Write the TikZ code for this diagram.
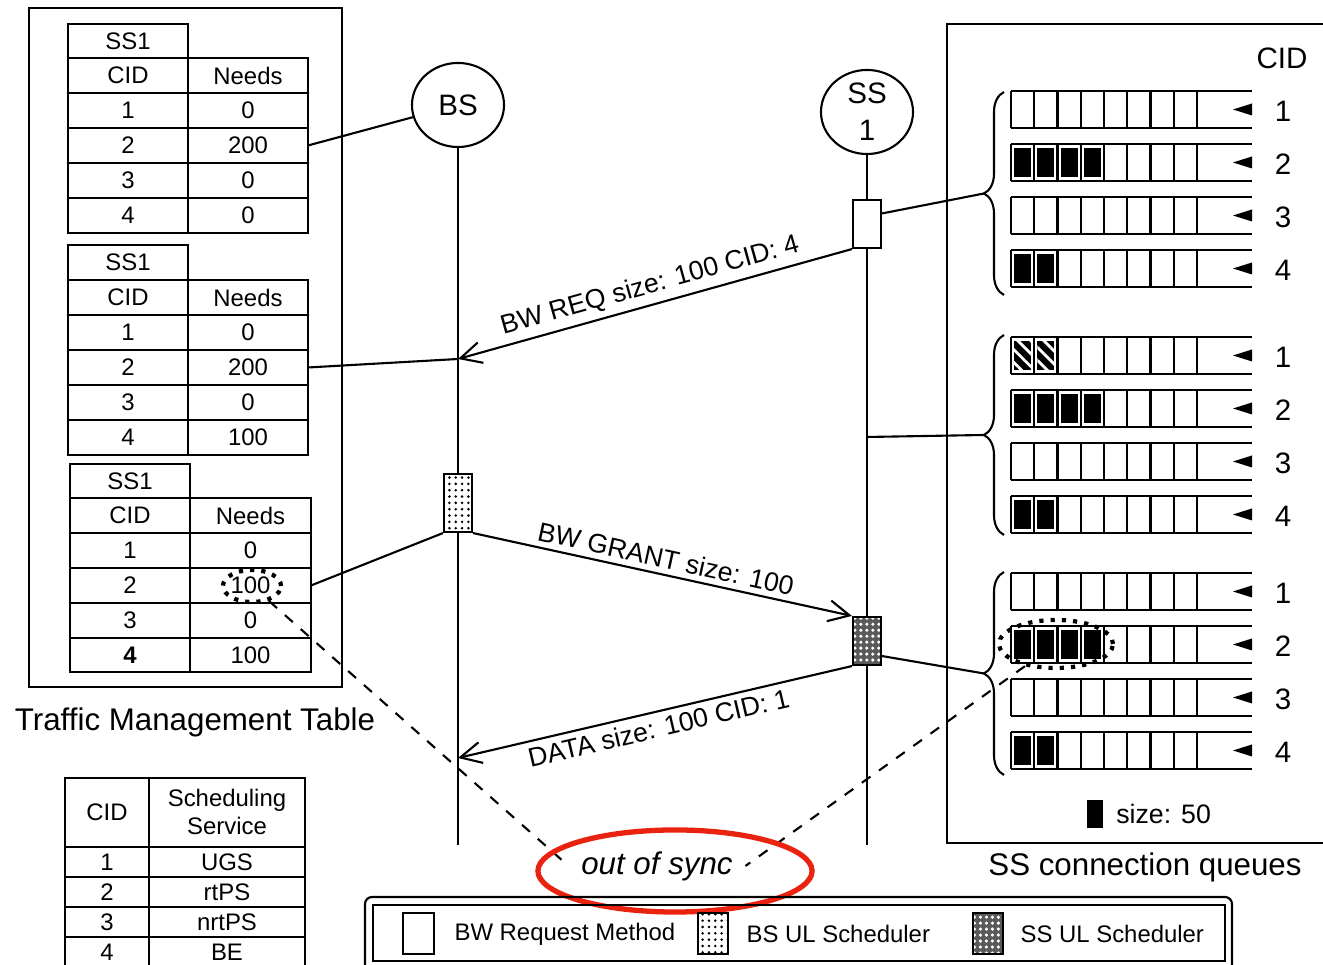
\documentclass[tikz,border=0pt]{standalone}
\usepackage{fontspec}
\setmainfont{Liberation Sans}
\usetikzlibrary{shapes.geometric,patterns,patterns.meta,decorations.pathreplacing,arrows.meta}

\definecolor{markred}{RGB}{234,34,16}

\tikzset{
  cell/.style={font=\fontsize{6.8}{8.2}\selectfont, inner sep=1pt},
  msg/.style={font=\fontsize{7.6}{9}\selectfont, inner sep=1.5pt},
  bigtext/.style={font=\fontsize{8.9}{10}\selectfont},
  num/.style={font=\fontsize{8.4}{10}\selectfont},
  station/.style={draw, ellipse, minimum width=0.92cm, minimum height=0.84cm, inner sep=0pt,
    font=\fontsize{8.4}{10.5}\selectfont, align=center},
  reqbox/.style={draw, fill=white, minimum width=0.28cm, minimum height=0.48cm, inner sep=0pt},
  bsbox/.style={draw, pattern={Dots[distance=1.8pt,radius=0.4pt]}, minimum width=0.28cm, minimum height=0.58cm, inner sep=0pt},
  ssbox/.style={draw, preaction={fill=black!65}, pattern={Dots[distance=1.7pt,radius=0.5pt]}, pattern color=white,
    minimum width=0.28cm, minimum height=0.48cm, inner sep=0pt},
  brc/.style={decorate, decoration={brace, amplitude=0.2cm}},
  msgarrow/.style={-{Straight Barb[length=6pt,width=6pt]}},
  ring/.style={draw, ellipse, dotted, line width=1.2pt, inner sep=0pt},
}

\begin{document}
\begin{tikzpicture}[x=0.01cm, y=-0.01cm, line width=0.6pt]
    \useasboundingbox (0,0) rectangle (1323,965);

    % traffic management table
    \draw (29,8) rectangle (342,687);
    \node[bigtext] (tmt) at (195,722) {Traffic Management Table};

    % first table
    \draw (68,24) rectangle (188,58);
    \draw (68,58) rectangle (308,233);
    \draw (188,58)--(188,233);
    \draw (68,93)--(308,93);
    \draw (68,128)--(308,128);
    \draw (68,163)--(308,163);
    \draw (68,198)--(308,198);
    \node[cell] (t1h) at (128,41) {SS1};
    \node[cell] (t1c) at (128,75.5) {CID};
    \node[cell] (t1n) at (248,75.5) {Needs};
    \node[cell] (t1a1) at (128,110.5) {1};
    \node[cell] (t1b1) at (248,110.5) {0};
    \node[cell] (t1a2) at (128,145.5) {2};
    \node[cell] (t1b2) at (248,145.5) {200};
    \node[cell] (t1a3) at (128,180.5) {3};
    \node[cell] (t1b3) at (248,180.5) {0};
    \node[cell] (t1a4) at (128,215.5) {4};
    \node[cell] (t1b4) at (248,215.5) {0};

    % second table
    \draw (68,245) rectangle (188,280);
    \draw (68,280) rectangle (308,455);
    \draw (188,280)--(188,455);
    \draw (68,315)--(308,315);
    \draw (68,350)--(308,350);
    \draw (68,385)--(308,385);
    \draw (68,420)--(308,420);
    \node[cell] (t2h) at (128,262.5) {SS1};
    \node[cell] (t2c) at (128,297.5) {CID};
    \node[cell] (t2n) at (248,297.5) {Needs};
    \node[cell] (t2a1) at (128,332.5) {1};
    \node[cell] (t2b1) at (248,332.5) {0};
    \node[cell] (t2a2) at (128,367.5) {2};
    \node[cell] (t2b2) at (248,367.5) {200};
    \node[cell] (t2a3) at (128,402.5) {3};
    \node[cell] (t2b3) at (248,402.5) {0};
    \node[cell] (t2a4) at (128,437.5) {4};
    \node[cell] (t2b4) at (248,437.5) {100};

    % third table
    \draw (70,464) rectangle (190,498);
    \draw (70,498) rectangle (311,672);
    \draw (190,498)--(190,672);
    \draw (70,533)--(311,533);
    \draw (70,568)--(311,568);
    \draw (70,603)--(311,603);
    \draw (70,638)--(311,638);
    \node[cell] (t3h) at (130,481) {SS1};
    \node[cell] (t3c) at (130,515.5) {CID};
    \node[cell] (t3n) at (250.5,515.5) {Needs};
    \node[cell] (t3a1) at (130,550.5) {1};
    \node[cell] (t3b1) at (250.5,550.5) {0};
    \node[cell] (t3a2) at (130,585.5) {2};
    \node[cell] (t3b2) at (250.5,585.5) {100};
    \node[cell] (t3a3) at (130,620.5) {3};
    \node[cell] (t3b3) at (250.5,620.5) {0};
    \node[cell] (t3a4) at (130,655) {\textbf{4}};
    \node[cell] (t3b4) at (250.5,655) {100};
    \node[ring, minimum width=0.58cm, minimum height=0.32cm] (r100) at (252,586) {};

    % scheduling services
    \draw (65,778) rectangle (305,967);
    \draw (149,778)--(149,967);
    \draw (65,847)--(305,847);
    \draw (65,877)--(305,877);
    \draw (65,907)--(305,907);
    \draw (65,937)--(305,937);
    \node[cell] (sc) at (107,812) {CID};
    \node[cell, align=center] (sn) at (227,812) {Scheduling\\Service};
    \node[cell] (sa1) at (107,862) {1};
    \node[cell] (sb1) at (227,862) {UGS};
    \node[cell] (sa2) at (107,892) {2};
    \node[cell] (sb2) at (227,892) {rtPS};
    \node[cell] (sa3) at (107,922) {3};
    \node[cell] (sb3) at (227,922) {nrtPS};
    \node[cell] (sa4) at (107,952) {4};
    \node[cell] (sb4) at (227,952) {BE};

    % stations and lifelines
    \node[station] (bs) at (458,105) {BS};
    \node[station] (ss) at (867,112) {SS\\1};
    \node[reqbox] (ssreq) at (867,224) {};
    \node[bsbox] (bssch) at (458,503) {};
    \node[ssbox] (sssch) at (867,641) {};
    \coordinate (bsin) at (458,359);
    \coordinate (bsout) at (458,758);
    \coordinate (bsend) at (458,845);
    \coordinate (sstap) at (867,437);
    \coordinate (ssend) at (867,845);
    \draw (bs) -- (bssch);
    \draw (bssch) -- (bsend);
    \draw (ss) -- (ssreq);
    \draw (ssreq) -- (sssch);
    \draw (sssch) -- (ssend);

    % messages
    \draw[msgarrow] (ssreq.south west) -- node[msg, sloped, above] (lreq) {BW REQ size: 100 CID: 4} (bsin);
    \draw[msgarrow] (bssch.south east) -- node[msg, sloped, above] (lgrant) {BW GRANT size: 100} (sssch.north west);
    \draw[msgarrow] (sssch.south west) -- node[msg, sloped, below] (ldata) {DATA size: 100 CID: 1} (bsout);

    % tables to BS
    \coordinate (t1r2) at (308,145.5);
    \coordinate (t2r2) at (308,367.5);
    \coordinate (t3r2) at (311,585.5);
    \draw (t1r2) -- (bs);
    \draw (t2r2) -- (bsin);
    \draw (t3r2) -- (bssch.south west);

    % SS connection queues
    \draw (1330,24)--(947,24)--(947,843)--(1330,843);
    \node[num] (cidh) at (1282,58) {CID};
    \foreach \t/\n in {91/1,144/2,197/3,250/4,337/1,390/2,443/3,496/4,573/1,626/2,679/3,732/4}{
        \draw (1011,\t)--(1252,\t);
        \draw (1011,\t+37)--(1252,\t+37);
        \foreach \k in {0,...,8}
            \draw (1011+23.25*\k,\t)--(1011+23.25*\k,\t+37);
        \fill (1233,\t+18.5)--(1252,\t+12.5)--(1252,\t+24.5)--cycle;
        \node[num] (q\t) at (1283,\t+20) {\n};
    }
    \foreach \t/\m in {144/3,250/1,390/3,496/1,626/3,732/1}
        \foreach \k in {0,...,\m}
            \fill (1014+23.25*\k,\t+4) rectangle (1031+23.25*\k,\t+33);
    \foreach \k in {0,1}{
        \fill (1014+23.25*\k,341) rectangle (1031+23.25*\k,370);
        \fill[pattern={Lines[angle=-45,distance=2.6pt,line width=0.8pt]}, pattern color=white]
            (1014+23.25*\k,341) rectangle (1031+23.25*\k,370);
    }
    \node[ring, minimum width=1.14cm, minimum height=0.48cm] (rq) at (1056,644) {};
    \fill (1087,800) rectangle (1103,828);
    \node[msg, anchor=west] (szl) at (1110,814) {size: 50};
    \node[bigtext] (scq) at (1145,867) {SS connection queues};

    % braces
    \draw[brc] (1004,295)--(1004,92);
    \draw[brc] (1004,535)--(1004,335);
    \draw[brc] (1004,775)--(1004,572);
    \coordinate (br1) at (984,193.5);
    \coordinate (br2) at (984,435);
    \coordinate (br3) at (984,673.5);
    \draw (ssreq.35) -- (br1);
    \draw (sstap) -- (br2);
    \draw (sssch.-45) -- (br3);

    % out of sync
    \node[font=\fontsize{8.9}{10}\selectfont\itshape] (oos) at (657,866) {out of sync};
    \draw[dashed] (r100) -- (oos.west);
    \draw[dashed] (rq) -- (oos.east);
    \node[draw=markred, line width=1.5pt, ellipse, minimum width=2.74cm, minimum height=0.82cm] (mark) at (675,871) {};

    % legend
    \draw[rounded corners=2pt] (365,897) rectangle (1232,975);
    \draw (373,905) rectangle (1225,961);
    \node[reqbox, minimum width=0.31cm, minimum height=0.41cm] (lg1) at (418.5,933.5) {};
    \node[cell, anchor=west] (lt1) at (450,934) {BW Request Method};
    \node[bsbox, minimum width=0.30cm, minimum height=0.41cm] (lg2) at (713,933.5) {};
    \node[cell, anchor=west] (lt2) at (742,934) {BS UL Scheduler};
    \node[ssbox, minimum width=0.30cm, minimum height=0.41cm] (lg3) at (988,933.5) {};
    \node[cell, anchor=west] (lt3) at (1016,934) {SS UL Scheduler};
\end{tikzpicture}
\end{document}
